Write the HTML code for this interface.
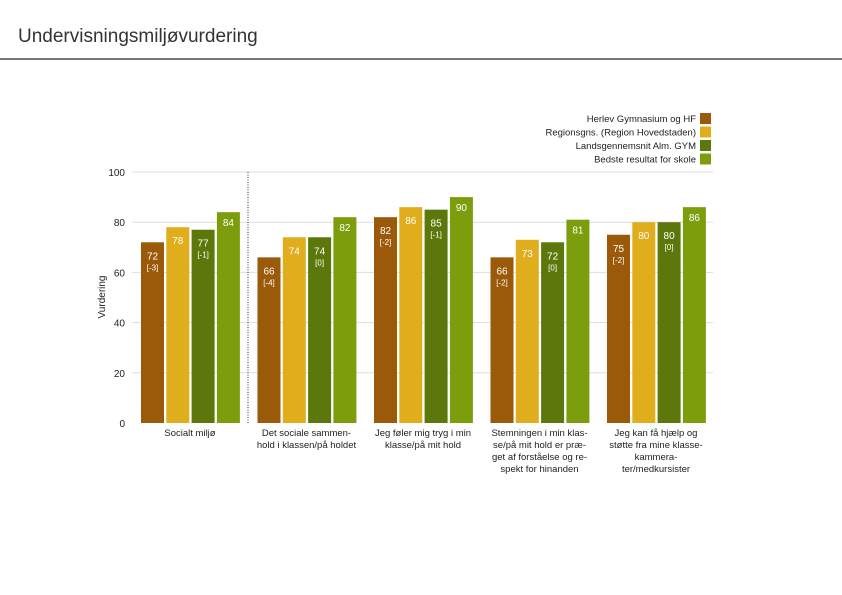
<!DOCTYPE html>
<html><head><meta charset="utf-8"><style>
body{margin:0;background:#fff;width:842px;height:595px;overflow:hidden;font-family:"Liberation Sans",sans-serif}
#title{position:absolute;left:18px;top:26px;font-size:19px;color:#333}
#rule{position:absolute;left:0;top:58px;width:842px;height:2px;background:#777}
</style></head><body>
<div id="title">Undervisningsmiljøvurdering</div>
<div id="rule"></div>
<svg id="chart" width="842" height="595" style="position:absolute;left:0;top:0"></svg>
<script>
const categories=[["Socialt miljø"],["Det sociale sammen-","hold i klassen/på holdet"],["Jeg føler mig tryg i min","klasse/på mit hold"],["Stemningen i min klas-","se/på mit hold er præ-","get af forståelse og re-","spekt for hinanden"],["Jeg kan få hjælp og","støtte fra mine klasse-","kammera-","ter/medkursister"]];
const seriesNames=["Herlev Gymnasium og HF","Regionsgns. (Region Hovedstaden)","Landsgennemsnit Alm. GYM","Bedste resultat for skole"];
const school=[72,66,82,66,75];
const region=[78,74,86,73,80];
const national=[77,74,85,72,80];
const best=[84,82,90,81,86];
const schoolDiff=["[-3]","[-4]","[-2]","[-2]","[-2]"];
const nationalDiff=["[-1]","[0]","[-1]","[0]","[0]"];
const yTicks=[0,20,40,60,80,100];
const colors=["#9a5a0a","#e0ad1c","#5c780a","#7d9e0c"];
const svg=document.getElementById('chart');const NS="http://www.w3.org/2000/svg";
function el(t,a){const e=document.createElementNS(NS,t);for(const k in a)e.setAttribute(k,a[k]);svg.appendChild(e);return e;}
const y=v=>423-v*2.51;
const gx=i=>141+i*116.5;
const bx=(i,j)=>gx(i)+j*25.3;
yTicks.forEach(t=>{
 if(t>0){const g=el('line',{x1:132,x2:713,y1:y(t),y2:y(t),stroke:'#ddd','stroke-width':1});
 
 }
 const l=el('text',{x:125,y:y(t)+4,'text-anchor':'end','font-size':10,fill:'#222'});l.textContent=t;
 
 
});
const yt=el('text',{x:105,y:297,'text-anchor':'middle','font-size':10,fill:'#222',transform:'rotate(-90 105 297)'});yt.textContent='Vurdering';


const sep=el('line',{x1:248,x2:248,y1:172,y2:423,stroke:'#333','stroke-dasharray':'1,1.5'});


const series=[school,region,national,best];
categories.forEach((c,i)=>{
 series.forEach((s,j)=>{
  const v=s[i];const r=el('rect',{x:bx(i,j),y:y(v),width:23,height:423-y(v),fill:colors[j]});
  
  
  const t=el('text',{x:bx(i,j)+11.5,y:y(v)+(j==3?14:17),'text-anchor':'middle','font-size':10,fill:'#fff'});t.textContent=v;
  
  
  const d=j==0?schoolDiff[i]:j==2?nationalDiff[i]:null;
  if(d){const b=el('text',{x:bx(i,j)+11.5,y:y(v)+28,'text-anchor':'middle','font-size':8,fill:'#fff'});b.textContent=d;
  
  }
 });
 c.forEach((line,k)=>{const t=el('text',{x:gx(i)+49,y:436+k*12,'text-anchor':'middle','font-size':9.5,fill:'#222'});t.textContent=line;
 
 });
});
seriesNames.forEach((n,j)=>{
 const yy=113+j*13.5;
 const r=el('rect',{x:700,y:yy,width:11,height:11,fill:colors[j]});
 
 
 const t=el('text',{x:696,y:yy+9,'text-anchor':'end','font-size':9.5,fill:'#222'});t.textContent=n;
 
 
});
</script>
</body></html>
